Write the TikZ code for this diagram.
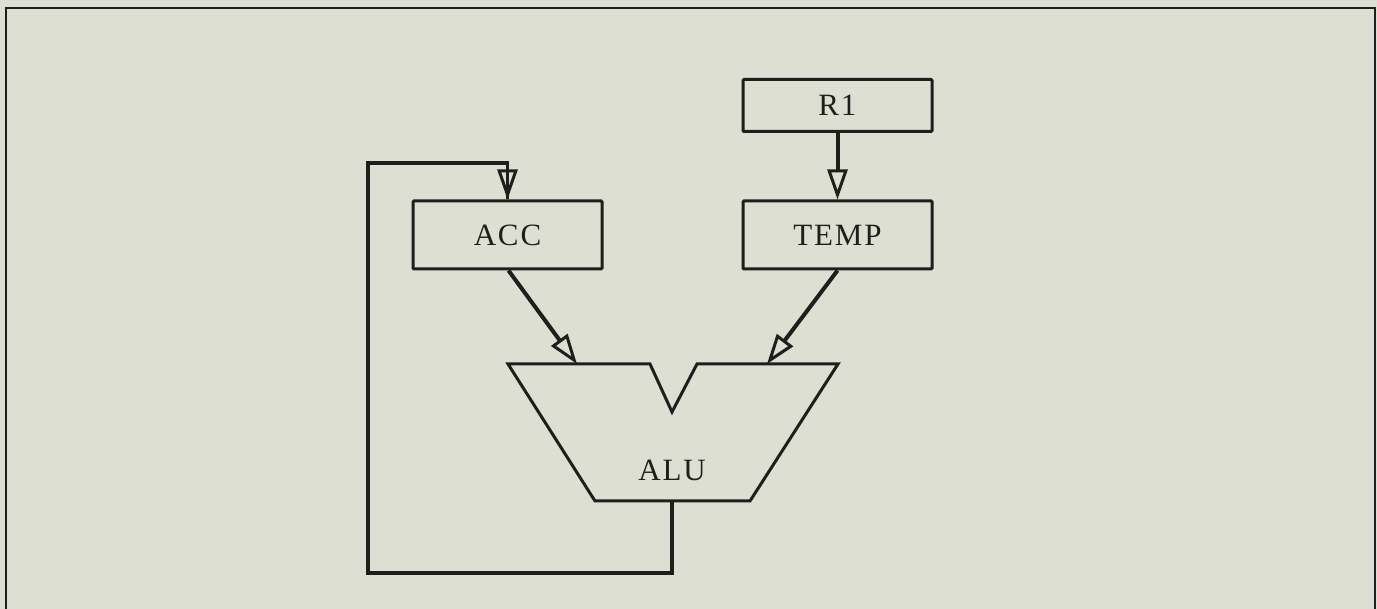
\documentclass[tikz,border=0pt]{standalone}
\usepackage{fontspec}
\setmainfont{Liberation Serif}[LetterSpace=6]
\usetikzlibrary{arrows.meta}
\definecolor{paper}{HTML}{DDDFD2}
\definecolor{ink}{HTML}{1E1E1C}
\begin{document}
\begin{tikzpicture}[x=1pt,y=-1pt,
  regbox/.style={draw=ink,line width=3pt,minimum width=189pt,minimum height=68pt,inner sep=0pt,font=\fontsize{31}{31}\selectfont,text=ink,rounded corners=1pt},
  bus/.style={draw=ink,line width=4pt,-{Triangle[open,length=30pt,width=20pt,line width=3pt]}},
  wire/.style={draw=ink,line width=3.5pt,line join=miter}]
\fill[paper] (0,0) rectangle (1377,609);
\useasboundingbox (0,0) rectangle (1377,609);
% frame
\draw[ink,line width=2.5pt] (6,609) -- (6,8) -- (1375,8) -- (1375,609);
% registers
\node[regbox,minimum height=52pt] (r1) at (837.5,105.5) {R1};
\node[regbox] (acc) at (507.5,235) {ACC};
\node[regbox] (temp) at (837.5,235) {TEMP};
% ALU
\draw[ink,line width=3pt,line join=miter] (508,364) -- (650,364) -- (672,412) -- (697,364) -- (838,364) -- (750,501) -- (595,501) -- cycle;
\node[font=\fontsize{31}{31}\selectfont,text=ink] (alu) at (672,470) {ALU};
\coordinate (alub) at (672,501);
\coordinate (ina) at (577,364);
\coordinate (inb) at (767,364);
\coordinate (c1) at (368,573);
\coordinate (c2) at (368,163);
% connectors
\draw[bus] (r1.south) -- (temp.north);
\draw[bus] ([xshift=1pt]acc.south) -- (ina);
\draw[bus] (temp.south) -- (inb);
\draw[wire] (alub) |- (c1) -- (c2) -| (acc.north);
\draw[bus,line width=3.5pt] ([yshift=-2pt]acc.north |- c2) -- (acc.north);
\end{tikzpicture}
\end{document}
